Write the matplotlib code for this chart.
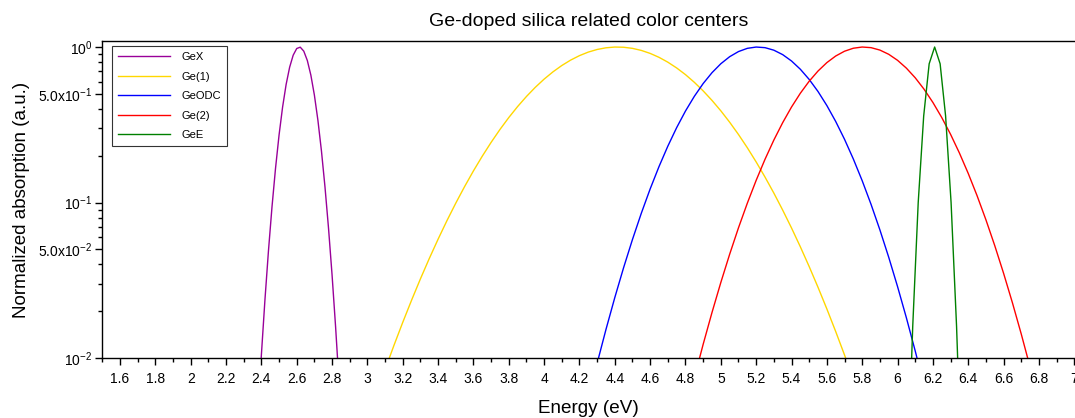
import numpy as np
import matplotlib.pyplot as plt
from matplotlib.ticker import FixedLocator, FixedFormatter, MultipleLocator, LogLocator, NullFormatter, FuncFormatter

# style
plt.rcParams['font.family'] = ['Liberation Sans', 'DejaVu Sans']
plt.rcParams['mathtext.fontset'] = 'custom'
plt.rcParams['mathtext.rm'] = 'Liberation Sans'
plt.rcParams['mathtext.it'] = 'Liberation Sans:italic'
plt.rcParams['mathtext.bf'] = 'Liberation Sans:bold'
plt.rcParams['axes.facecolor'] = 'white'
plt.rcParams['figure.facecolor'] = 'white'
plt.rcParams['xtick.direction'] = 'out'
plt.rcParams['ytick.direction'] = 'out'

# absorption bands (energy in eV, normalized absorption)
e_gex = [2.36, 2.38, 2.40, 2.42, 2.44, 2.46, 2.48, 2.50, 2.52, 2.54, 2.56, 2.58, 2.60,
         2.62, 2.64, 2.66, 2.68, 2.70, 2.72, 2.74, 2.76, 2.78, 2.80, 2.82, 2.84, 2.86]
a_gex = [0.00164, 0.00431, 0.01047, 0.02352, 0.04878, 0.09355, 0.1657, 0.2714, 0.4107,
         0.5742, 0.7420, 0.8860, 0.9781, 0.9975, 0.9402, 0.8190, 0.6594, 0.4904, 0.3372,
         0.2142, 0.1257, 0.06823, 0.03421, 0.01585, 0.00679, 0.00269]

e_ge1 = [3.00, 3.05, 3.10, 3.15, 3.20, 3.25, 3.30, 3.35, 3.40, 3.45, 3.50, 3.55, 3.60,
         3.65, 3.70, 3.75, 3.80, 3.85, 3.90, 3.95, 4.00, 4.05, 4.10, 4.15, 4.20, 4.25,
         4.30, 4.35, 4.40, 4.45, 4.50, 4.55, 4.60, 4.65, 4.70, 4.75, 4.80, 4.85, 4.90,
         4.95, 5.00, 5.05, 5.10, 5.15, 5.20, 5.25, 5.30, 5.35, 5.40, 5.45, 5.50, 5.55,
         5.60, 5.65, 5.70, 5.75, 5.80]
a_ge1 = [0.00397, 0.005823, 0.00843, 0.01204, 0.01696, 0.02355, 0.03228, 0.04361, 0.05810,
         0.07641, 0.09904, 0.1266, 0.1597, 0.1986, 0.2436, 0.2948, 0.3518, 0.4141, 0.4807,
         0.5504, 0.6216, 0.6921, 0.7603, 0.8237, 0.8801, 0.9276, 0.9641, 0.9884, 0.9994,
         0.9966, 0.9802, 0.9509, 0.9098, 0.8586, 0.7990, 0.7335, 0.6643, 0.5930, 0.5223,
         0.4536, 0.3887, 0.3284, 0.2737, 0.2250, 0.1823, 0.1458, 0.1150, 0.08942, 0.06860,
         0.05190, 0.03873, 0.02850, 0.02069, 0.01481, 0.01046, 0.007284, 0.00500]

e_geodc = [4.20, 4.25, 4.30, 4.35, 4.40, 4.45, 4.50, 4.55, 4.60, 4.65, 4.70, 4.75, 4.80,
           4.85, 4.90, 4.95, 5.00, 5.05, 5.10, 5.15, 5.20, 5.25, 5.30, 5.35, 5.40, 5.45,
           5.50, 5.55, 5.60, 5.65, 5.70, 5.75, 5.80, 5.85, 5.90, 5.95, 6.00, 6.05, 6.10,
           6.15, 6.20]
a_geodc = [0.00312, 0.005445, 0.00925, 0.01526, 0.02448, 0.03818, 0.05786, 0.08530, 0.1222,
           0.1701, 0.2302, 0.3030, 0.3876, 0.4816, 0.5821, 0.6837, 0.7806, 0.8665, 0.9349,
           0.9805, 0.9995, 0.9905, 0.9541, 0.8934, 0.8131, 0.7194, 0.6188, 0.5174, 0.4204,
           0.3321, 0.2550, 0.1903, 0.1381, 0.09739, 0.06677, 0.04450, 0.02882, 0.01815,
           0.01111, 0.006608, 0.00382]

e_ge2 = [4.80, 4.85, 4.90, 4.95, 5.00, 5.05, 5.10, 5.15, 5.20, 5.25, 5.30, 5.35, 5.40,
         5.45, 5.50, 5.55, 5.60, 5.65, 5.70, 5.75, 5.80, 5.85, 5.90, 5.95, 6.00, 6.05,
         6.10, 6.15, 6.20, 6.25, 6.30, 6.35, 6.40, 6.45, 6.50, 6.55, 6.60, 6.65, 6.70,
         6.75, 6.80]
a_ge2 = [0.00440, 0.007441, 0.01225, 0.01962, 0.03061, 0.04650, 0.06881, 0.09906, 0.1389,
         0.1896, 0.2521, 0.3262, 0.4111, 0.5044, 0.6026, 0.7008, 0.7937, 0.8751, 0.9396,
         0.9822, 0.9997, 0.9906, 0.9558, 0.8979, 0.8213, 0.7314, 0.6342, 0.5355, 0.4402,
         0.3523, 0.2746, 0.2083, 0.1539, 0.1107, 0.07752, 0.05287, 0.03510, 0.02269,
         0.01428, 0.008751, 0.00522]

e_gee = [6.055, 6.086, 6.117, 6.148, 6.179, 6.21, 6.241, 6.272, 6.303, 6.334, 6.365]
a_gee = [0.0015, 0.016, 0.10, 0.36, 0.78, 1.0, 0.78, 0.36, 0.10, 0.016, 0.0015]

y_ticks = [0.01, 0.05, 0.1, 0.5, 1.0]
y_labels = ['10$^{-2}$', '5.0x10$^{-2}$', '10$^{-1}$', '5.0x10$^{-1}$', '10$^{0}$']

fig = plt.figure(figsize=(10.75, 4.18), dpi=100)
ax = fig.add_axes([0.0952, 0.1435, 0.9041, 0.7584])

ax.plot(e_gex, a_gex, color='#990099', lw=1.0, label='GeX')
ax.plot(e_ge1, a_ge1, color='#FFD700', lw=1.0, label='Ge(1)')
ax.plot(e_geodc, a_geodc, color='#0000FF', lw=1.0, label='GeODC')
ax.plot(e_ge2, a_ge2, color='#FF0000', lw=1.0, label='Ge(2)')
ax.plot(e_gee, a_gee, color='#008000', lw=1.0, label='GeE')

ax.set_yscale('log')
ax.set_xlim(1.5, 7.0)
ax.set_ylim(0.01, 1.093)

# ticks
ax.xaxis.set_major_locator(MultipleLocator(0.2))
ax.xaxis.set_minor_locator(MultipleLocator(0.1))
ax.xaxis.set_major_formatter(FuncFormatter(lambda v, p: f'{v:g}' if v > 1.55 else ''))
ax.yaxis.set_major_locator(FixedLocator(y_ticks))
ax.yaxis.set_major_formatter(FixedFormatter(y_labels))
ax.yaxis.set_minor_locator(LogLocator(base=10, subs=np.arange(2, 10)))
ax.yaxis.set_minor_formatter(NullFormatter())
ax.tick_params(which='major', length=5, width=1, labelsize=10, color='black')
ax.tick_params(which='minor', length=3, width=1, color='black')
ax.tick_params(axis='x', pad=5)
ax.tick_params(axis='y', pad=2)

for s in ['left', 'bottom', 'top']:
    ax.spines[s].set_linewidth(1.0)
ax.spines['right'].set_visible(False)

ax.set_xlabel('Energy (eV)', fontsize=13.6, labelpad=10.5)
ax.set_ylabel('Normalized absorption (a.u.)', fontsize=13.5, labelpad=6)
ax.set_title('Ge-doped silica related color centers', fontsize=14, pad=11)

ax.legend(loc='upper left', bbox_to_anchor=(0.01, 0.984), borderaxespad=0, fontsize=8,
          handlelength=4.7, handletextpad=1.0, labelspacing=0.85, borderpad=0.55,
          fancybox=False, edgecolor='0.2', framealpha=1)
ax.get_legend().get_frame().set_linewidth(0.8)

plt.savefig('out.png', dpi=100)
